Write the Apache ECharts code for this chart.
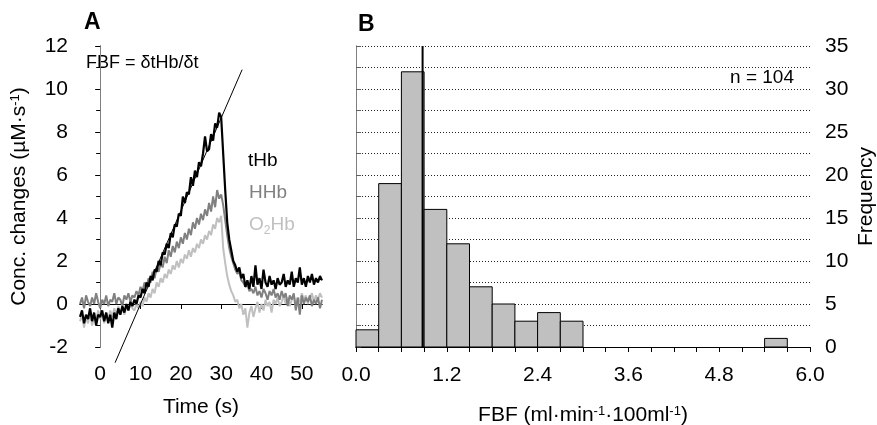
<!DOCTYPE html>
<html><head><meta charset="utf-8">
<script src="https://cdn.jsdelivr.net/npm/echarts@6/dist/echarts.min.js"></script>
<style>html,body{margin:0;padding:0;background:#fff}#c{width:877px;height:425px}</style>
</head><body><div id="c"></div>
<script>
const FONT = '"Liberation Sans", Arial, Helvetica, sans-serif';

// ---- Panel A: time courses (sampled every 0.5 s from -5 s) ----
const timeStart = -5, timeStep = 0.5;
const tHb = [
  -0.6,-0.3,-0.9,-0.5,-0.7,-0.2,-0.8,-0.4,-1.0,-0.5,-0.6,-0.3,-0.8,-0.4,-0.9,-0.5,-1.1,-0.4,-0.7,-0.2,-0.5,-0.1,-0.4,0.0,-0.3,0.1,-0.1,
  0.2,0.0,0.4,0.3,0.7,0.5,1.0,0.8,1.3,1.1,1.6,1.5,2.0,1.8,2.4,2.3,2.8,2.6,3.3,3.1,3.7,3.6,4.2,4.1,5.0,4.7,5.2,5.1,5.9,5.5,6.2,5.9,6.6,6.4,7.0,7.8,7.1,7.2,7.9,7.6,8.4,8.2,8.9,
  8.7,7.0,5.3,3.8,3.0,2.5,2.0,1.8,1.5,1.7,1.2,1.4,0.8,1.1,0.7,1.3,0.8,1.8,0.9,1.2,0.7,1.6,1.0,0.8,1.3,0.9,1.1,0.7,1.2,0.9,1.0,1.4,0.8,1.1,0.9,1.5,0.8,1.2,1.0,1.7,0.9,1.2,0.8,1.3,1.0,1.4,0.9,1.2,1.0,1.3,1.1
];
const HHb = [
  0.0,0.3,-0.2,0.4,0.1,-0.1,0.3,0.0,0.5,0.1,-0.2,0.2,0.0,0.4,-0.1,0.2,0.1,0.5,0.0,0.3,0.2,-0.1,0.4,0.2,0.5,0.1,0.4,
  0.3,0.6,0.4,0.8,0.6,1.0,0.8,1.2,1.0,1.5,1.2,1.7,1.5,1.9,1.7,2.2,1.9,2.5,2.2,2.7,2.4,2.9,2.6,3.1,2.8,3.3,3.0,3.5,3.2,3.8,3.5,4.0,3.7,4.2,3.9,4.4,4.1,4.7,4.3,5.0,4.5,5.3,4.9,
  5.1,4.6,3.9,3.2,2.6,2.2,1.9,1.6,1.4,1.5,1.1,1.0,0.8,0.9,0.6,0.7,0.5,0.8,0.4,0.6,0.3,0.7,0.5,0.2,0.6,0.4,0.7,0.3,0.5,0.2,0.6,0.3,0.5,-0.1,0.4,0.2,0.5,-0.3,0.3,-0.5,0.4,0.0,0.3,0.1,0.4,-0.1,0.2,0.0,0.3,-0.2,0.2
];
const O2Hb = [
  -0.8,-0.5,-1.1,-0.6,-0.9,-0.4,-1.0,-0.6,-0.8,-0.3,-0.7,-0.5,-0.9,-0.4,-0.7,-0.3,-0.6,-0.2,-0.5,-0.1,-0.4,-0.2,-0.5,-0.1,-0.3,0.0,-0.2,
  -0.3,0.0,-0.2,0.1,-0.1,0.3,0.1,0.5,0.3,0.7,0.5,1.0,0.8,1.2,1.0,1.4,1.2,1.6,1.4,1.8,1.6,2.0,1.7,2.1,1.9,2.3,2.1,2.5,2.2,2.6,2.4,2.8,2.6,3.0,2.8,3.2,3.0,3.4,3.2,3.7,3.5,4.0,3.8,
  4.1,2.6,1.9,1.3,0.9,0.6,0.4,0.1,0.2,-0.2,0.0,-0.5,-0.2,-1.1,-0.4,-0.1,-0.6,-0.2,0.1,-0.4,0.0,-0.3,0.2,-0.1,0.1,-0.4,0.2,0.0,0.3,-0.1,0.1,0.4,0.0,0.3,-0.1,0.2,0.4,0.0,0.3,0.1,0.5,0.2,0.4,0.0,0.3,0.5,0.1,0.4,0.2,0.5,0.3
];
const timeTicks = [0, 10, 20, 30, 40, 50];
const fitT = [3.7, 35.2];
const fitV = [-2.73, 10.9];

// ---- Panel B: histogram of FBF ----
const binStarts = [0,0.3,0.6,0.9,1.2,1.5,1.8,2.1,2.4,2.7,3.0,3.3,3.6,3.9,4.2,4.5,4.8,5.1,5.4,5.7];
const binWidth = 0.3;
const binCounts = [2,19,32,16,12,7,5,3,4,3,0,0,0,0,0,0,0,0,1,0];
const fbfTicks = [0, 1.2, 2.4, 3.6, 4.8, 6.0];
const medianFBF = 0.88;
const nLabel = 'n = 104';

function toPairs(vals) { return vals.map((v, i) => [timeStart + i * timeStep, v]); }

const chart = echarts.init(document.getElementById('c'), null, {renderer: 'canvas'});
const FS = 21;
const txt = {fontFamily: FONT, fontSize: FS, color: '#000'};
const supRich = {sup: {fontFamily: FONT, fontSize: 13, verticalAlign: 'top', color: '#000'}};
const blackLine = {show: true, lineStyle: {color: '#000', width: 1}};
const grayLine = {show: true, lineStyle: {color: '#808080', width: 1}};
const dotted = {color: '#222', width: 1, type: [1, 2]};

chart.setOption({
  animation: false,
  backgroundColor: '#fff',
  grid: [
    {left: 80, top: 46, width: 242, height: 301, containLabel: false, outerBoundsMode: 'none'},
    {left: 356, top: 46, width: 454, height: 301, containLabel: false, outerBoundsMode: 'none'}
  ],
  xAxis: [
    {gridIndex: 0, type: 'value', position: 'bottom', min: -5, max: 55,
     axisLine: blackLine,
     axisTick: {show: true, customValues: timeTicks, length: 5, lineStyle: {color: '#000'}},
     axisLabel: Object.assign({customValues: timeTicks, margin: 17}, txt),
     splitLine: {show: false},
     name: 'Time (s)', nameLocation: 'middle', nameGap: 50, nameTextStyle: txt},
    {gridIndex: 0, type: 'value', position: 'top', min: -5, max: 55,
     axisLine: blackLine, axisTick: {show: false}, axisLabel: {show: false}, splitLine: {show: false}},
    {gridIndex: 1, type: 'value', position: 'bottom', min: 0, max: 6, interval: 0.3,
     axisLine: blackLine,
     axisTick: {show: true, length: 5, lineStyle: {color: '#000'}},
     axisLabel: Object.assign({customValues: fbfTicks, margin: 18, formatter: v => v.toFixed(1)}, txt),
     splitLine: {show: false},
     name: 'FBF (ml·min{sup|-1}·100ml{sup|-1})', nameLocation: 'middle', nameGap: 58,
     nameTextStyle: Object.assign({rich: supRich}, txt)},
    {gridIndex: 1, type: 'value', position: 'top', min: 0, max: 6,
     axisLine: blackLine, axisTick: {show: false}, axisLabel: {show: false}, splitLine: {show: false}}
  ],
  yAxis: [
    {gridIndex: 0, type: 'value', position: 'left', min: -2, max: 12, interval: 2,
     axisLine: blackLine,
     axisTick: {show: true, length: 5, lineStyle: {color: '#000'}},
     minorTick: {show: true, splitNumber: 2, length: 4, lineStyle: {color: '#000'}},
     axisLabel: Object.assign({margin: 12}, txt),
     splitLine: {show: false},
     name: 'Conc. changes (µM·s{sup|-1})', nameLocation: 'middle', nameGap: 50, nameRotate: 90,
     nameTextStyle: Object.assign({rich: supRich}, txt)},
    {gridIndex: 0, type: 'value', position: 'right', min: -2, max: 12,
     axisLine: grayLine, axisTick: {show: false}, axisLabel: {show: false}, splitLine: {show: false}},
    {gridIndex: 1, type: 'value', position: 'right', min: 0, max: 35, interval: 5,
     axisLine: grayLine,
     axisTick: {show: true, length: 5, lineStyle: {color: '#606060'}},
     minorTick: {show: true, splitNumber: 2, length: 5, lineStyle: {color: '#606060'}},
     axisLabel: Object.assign({margin: 15}, txt),
     splitLine: {show: true, lineStyle: dotted},
     minorSplitLine: {show: true, lineStyle: dotted},
     name: 'Frequency', nameLocation: 'middle', nameGap: 46, nameRotate: 90, nameMoveOverlap: false,
     nameTextStyle: txt},
    {gridIndex: 1, type: 'value', position: 'left', min: 0, max: 35,
     axisLine: grayLine, axisTick: {show: false}, axisLabel: {show: false}, splitLine: {show: false}}
  ],
  series: [
    {name: 'O2Hb', type: 'line', xAxisIndex: 0, yAxisIndex: 0, data: toPairs(O2Hb),
     showSymbol: false, symbol: 'none', lineStyle: {color: '#c0c0c0', width: 2}, z: 2},
    {name: 'HHb', type: 'line', xAxisIndex: 0, yAxisIndex: 0, data: toPairs(HHb),
     showSymbol: false, symbol: 'none', lineStyle: {color: '#808080', width: 2}, z: 3},
    {name: 'tHb', type: 'line', xAxisIndex: 0, yAxisIndex: 0, data: toPairs(tHb),
     showSymbol: false, symbol: 'none', lineStyle: {color: '#000', width: 2.2}, z: 4},
    {name: 'fit', type: 'line', xAxisIndex: 0, yAxisIndex: 0, data: fitT.map((t, i) => [t, fitV[i]]),
     showSymbol: false, symbol: 'none', clip: false, lineStyle: {color: '#000', width: 1}, z: 5},
    {name: 'hist', type: 'custom', xAxisIndex: 2, yAxisIndex: 2,
     data: binStarts.map((s, i) => [s, s + binWidth, binCounts[i]]).filter(d => d[2] > 0),
     encode: {x: [0, 1], y: 2},
     renderItem: function (params, api) {
       const p0 = api.coord([api.value(0), api.value(2)]);
       const p1 = api.coord([api.value(1), 0]);
       return {type: 'rect', shape: {x: p0[0], y: p0[1], width: p1[0] - p0[0], height: p1[1] - p0[1]},
               style: {fill: '#c0c0c0', stroke: '#000', lineWidth: 1}};
     }, z: 3},
    {name: 'median', type: 'line', xAxisIndex: 2, yAxisIndex: 2, data: [[medianFBF, 0], [medianFBF, 35]],
     showSymbol: false, symbol: 'none', lineStyle: {color: '#000', width: 2}, z: 6}
  ],
  graphic: [
    {type: 'text', x: 84, y: 23, style: {text: 'A', font: 'bold 23px ' + FONT, fill: '#000', textVerticalAlign: 'middle'}},
    {type: 'text', x: 358, y: 25, style: {text: 'B', font: 'bold 23px ' + FONT, fill: '#000', textVerticalAlign: 'middle'}},
    {type: 'text', x: 86, y: 63, style: {text: 'FBF = δtHb/δt', font: '18px ' + FONT, fill: '#000', textVerticalAlign: 'middle'}},
    {type: 'text', x: 248, y: 161, style: {text: 'tHb', font: '19px ' + FONT, fill: '#000', textVerticalAlign: 'middle'}},
    {type: 'text', x: 249, y: 193, style: {text: 'HHb', font: '19px ' + FONT, fill: '#808080', textVerticalAlign: 'middle'}},
    {type: 'text', x: 249, y: 225, style: {text: 'O{sub|2}Hb', font: '19px ' + FONT, fill: '#c0c0c0', textVerticalAlign: 'middle',
      rich: {sub: {fontFamily: FONT, fontSize: 12, verticalAlign: 'bottom', fill: '#c0c0c0', padding: [0, 0, -2, 0]}}}},
    {type: 'text', x: 794, y: 78, style: {text: nLabel, font: '19px ' + FONT, fill: '#000', textAlign: 'right', textVerticalAlign: 'middle'}}
  ]
});
</script></body></html>
